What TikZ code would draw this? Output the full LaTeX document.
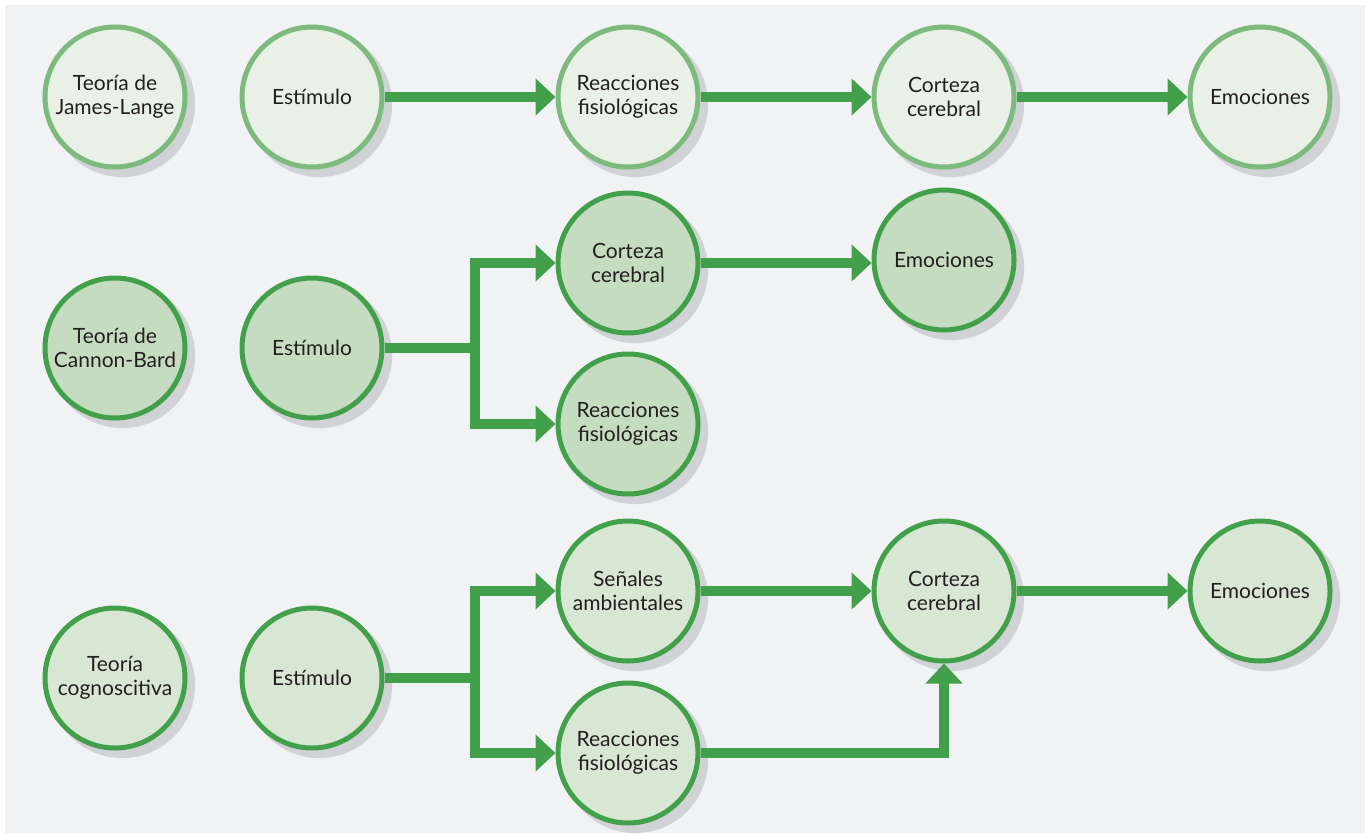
\documentclass[tikz,border=0pt]{standalone}
\usepackage{fontspec}
\setmainfont{Lato}
\usetikzlibrary{arrows.meta,shadows}
\definecolor{panel}{HTML}{F1F2F4}
\definecolor{fillA}{HTML}{E9F1E6}
\definecolor{lineA}{HTML}{7CBA7E}
\definecolor{fillB}{HTML}{C5DCC0}
\definecolor{fillC}{HTML}{D7E7D3}
\definecolor{lineG}{HTML}{43A04A}
\definecolor{txt}{HTML}{231F20}
\definecolor{shade}{HTML}{D1D2D5}
\tikzset{
  bubble/.style={circle, minimum size=140pt, inner sep=0pt, line width=5pt,
    text=txt, align=center, font=\fontsize{21}{24}\selectfont,
    drop shadow={shadow xshift=7pt, shadow yshift=-7pt, fill=shade, opacity=1, shadow scale=1.04}},
  rowA/.style={bubble, draw=lineA, fill=fillA},
  rowB/.style={bubble, draw=lineG, fill=fillB},
  rowC/.style={bubble, draw=lineG, fill=fillC},
  flow/.style={draw=lineG, line width=10pt, -{Triangle[width=36pt,length=20pt]}},
  link/.style={draw=lineG, line width=10pt}
}
\begin{document}
\begin{tikzpicture}[x=1pt,y=-1pt]
\useasboundingbox (0,0) rectangle (1370,837);
\fill[white] (0,0) rectangle (1370,837);
\fill[panel] (5,5) rectangle (1365,833);
% row 1
\node[rowA] (t1) at (115,97) {Teoría de\\James-Lange};
\node[rowA] (e1) at (312,97) {Estímulo};
\node[rowA] (r1) at (628,97) {Reacciones\\fisiológicas};
\node[rowA] (c1) at (944,97) {Corteza\\cerebral};
\node[rowA] (m1) at (1260,97) {Emociones};
\path[flow] (e1) -- (r1);
\path[flow] (r1) -- (c1);
\path[flow] (c1) -- (m1);
% row 2
\node[rowB] (t2) at (115,348) {Teoría de\\Cannon-Bard};
\node[rowB] (e2) at (312,348) {Estímulo};
\node[rowB] (c2) at (628,263) {Corteza\\cerebral};
\node[rowB] (m2) at (944,260) {Emociones};
\node[rowB] (r2) at (628,424) {Reacciones\\fisiológicas};
\coordinate (b2) at (475,348);
\path[link] (e2) -- (b2);
\path[flow] (b2) |- (c2);
\path[flow] (b2) |- (r2);
\path[flow] (c2) -- (c2 -| m2.west);
% row 3
\node[rowC] (t3) at (115,678) {Teoría\\cognoscitiva};
\node[rowC] (e3) at (312,678) {Estímulo};
\node[rowC] (s3) at (628,591) {Señales\\ambientales};
\node[rowC] (c3) at (944,591) {Corteza\\cerebral};
\node[rowC] (m3) at (1260,591) {Emociones};
\node[rowC] (r3) at (628,753) {Reacciones\\fisiológicas};
\coordinate (b3) at (475,678);
\path[link] (e3) -- (b3);
\path[flow] (b3) |- (s3);
\path[flow] (b3) |- (r3);
\path[flow] (s3) -- (c3);
\path[flow] (c3) -- (m3);
\path[flow] (r3) -| (c3);
\end{tikzpicture}
\end{document}
